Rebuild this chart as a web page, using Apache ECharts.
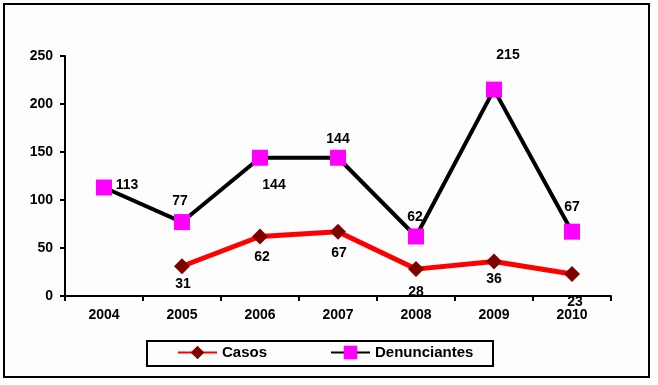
<!DOCTYPE html>
<html>
<head>
<meta charset="utf-8">
<script src="https://cdn.jsdelivr.net/npm/echarts@6/dist/echarts.min.js"></script>
<style>
html,body{margin:0;padding:0;background:#fdfdfd;}
#c{width:658px;height:385px;}
</style>
</head>
<body>
<div id="c"></div>
<script>
var categories = ['2004','2005','2006','2007','2008','2009','2010'];
var casos = [null, 31, 62, 67, 28, 36, 23];
var denunciantes = [113, 77, 144, 144, 62, 215, 67];
var yTicks = [0, 50, 100, 150, 200, 250];

// label offsets (label centre relative to marker centre), px
var casosLabelOffsets = [[0,0],[1,18],[2,21],[1,21],[0,23],[0,18],[3,28]];
var denLabelOffsets = [[23,-2],[-2,-21],[14,27],[0,-19],[-1,-19],[14,-34],[0,-25]];

var FONT = '"Liberation Sans", Arial, sans-serif';

function withLabels(values, offsets) {
  return values.map(function (v, i) {
    if (v === null) return null;
    return {
      value: v,
      label: { show: true, position: 'inside', offset: offsets[i] }
    };
  });
}

var chart = echarts.init(document.getElementById('c'), null, {renderer: 'canvas'});
chart.setOption({
  backgroundColor: '#fdfdfd',
  animation: false,
  grid: { left: 65, right: 47, top: 56, bottom: 89 },
  xAxis: {
    type: 'category',
    data: categories,
    boundaryGap: true,
    axisLine: { lineStyle: { color: '#000', width: 2 } },
    axisTick: { show: true, length: 5, lineStyle: { color: '#000', width: 2 }, alignWithLabel: false },
    axisLabel: { color: '#000', fontWeight: 'bold', fontSize: 14, fontFamily: FONT, margin: 12, interval: 0 },
    splitLine: { show: false }
  },
  yAxis: {
    type: 'value',
    min: yTicks[0],
    max: yTicks[yTicks.length - 1],
    interval: 50,
    axisLine: { show: true, lineStyle: { color: '#000', width: 2 } },
    axisTick: { show: true, length: 5, lineStyle: { color: '#000', width: 2 } },
    axisLabel: { color: '#000', fontWeight: 'bold', fontSize: 14, fontFamily: FONT, margin: 12 },
    splitLine: { show: false }
  },
  legend: {
    left: 177,
    top: 345,
    padding: 0,
    itemGap: 63,
    itemWidth: 39,
    itemHeight: 17,
    textStyle: { color: '#000', fontWeight: 'bold', fontSize: 15, fontFamily: FONT },
    data: ['Casos', 'Denunciantes']
  },
  graphic: [
    { type: 'rect', silent: true, shape: { x: 4, y: 4, width: 645, height: 373 },
      style: { fill: null, stroke: '#000', lineWidth: 2 } },
    { type: 'rect', silent: true, shape: { x: 147, y: 341, width: 346, height: 25 },
      style: { fill: null, stroke: '#000', lineWidth: 2 } }
  ],
  series: [
    {
      name: 'Casos',
      type: 'line',
      data: withLabels(casos, casosLabelOffsets),
      connectNulls: false,
      symbol: 'diamond',
      symbolSize: 16,
      lineStyle: { color: '#ff0000', width: 5 },
      itemStyle: { color: '#800000' },
      label: { show: true, color: '#000', fontWeight: 'bold', fontSize: 14, fontFamily: FONT },
      z: 2
    },
    {
      name: 'Denunciantes',
      type: 'line',
      data: withLabels(denunciantes, denLabelOffsets),
      symbol: 'rect',
      symbolSize: 16,
      lineStyle: { color: '#000', width: 4 },
      itemStyle: { color: '#ff00ff' },
      label: { show: true, color: '#000', fontWeight: 'bold', fontSize: 14, fontFamily: FONT },
      z: 3
    }
  ]
});
</script>
</body>
</html>
